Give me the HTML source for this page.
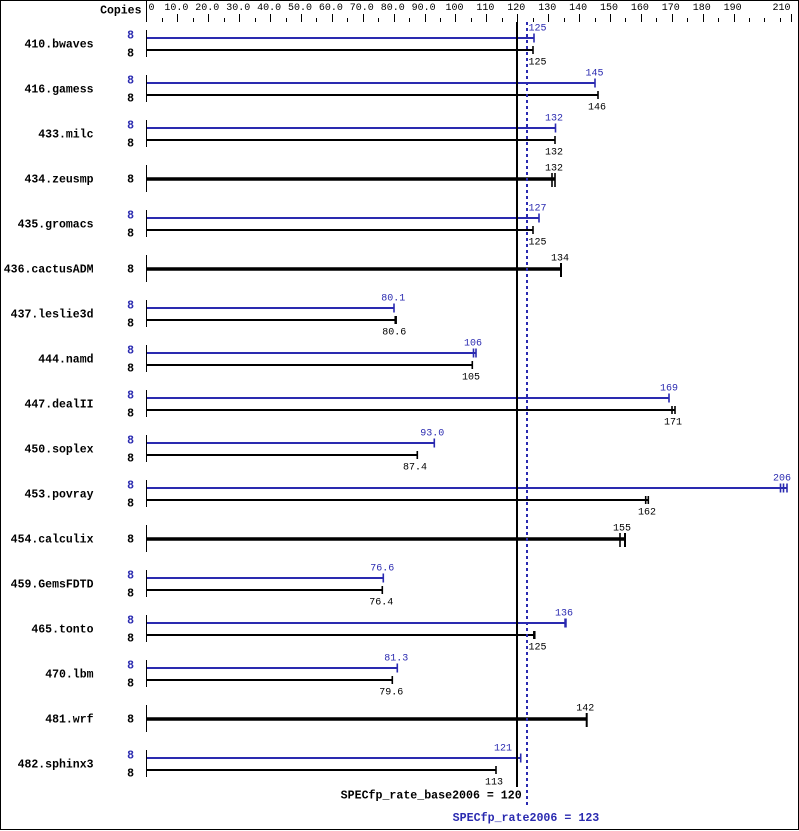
<!DOCTYPE html>
<html><head><meta charset="utf-8"><style>
html,body{margin:0;padding:0;background:#fff;}
svg{display:block;}
text{font-family:"Liberation Mono","DejaVu Sans Mono",monospace;}
.n{font-size:10px;fill:#000;}
.b{font-size:11.5px;font-weight:bold;fill:#000;}
.bl{fill:#2a2ab0;}
</style></head><body>
<svg width="799" height="831" viewBox="0 0 799 831" xmlns="http://www.w3.org/2000/svg">
<rect x="0" y="0" width="799" height="831" fill="#fff"/>
<rect x="0.5" y="0.5" width="798" height="829" fill="none" stroke="#000" stroke-width="1"/>

<!-- header -->
<text class="b" x="141.5" y="13.5" text-anchor="end">Copies</text>
<line x1="146.5" y1="1" x2="146.5" y2="22" stroke="#000" stroke-width="1"/>
<g stroke="#000" stroke-width="1">
<line x1="162.5" y1="18" x2="162.5" y2="22"/>
<line x1="177.5" y1="14" x2="177.5" y2="22"/>
<line x1="193.5" y1="18" x2="193.5" y2="22"/>
<line x1="208.5" y1="14" x2="208.5" y2="22"/>
<line x1="224.5" y1="18" x2="224.5" y2="22"/>
<line x1="239.5" y1="14" x2="239.5" y2="22"/>
<line x1="255.5" y1="18" x2="255.5" y2="22"/>
<line x1="270.5" y1="14" x2="270.5" y2="22"/>
<line x1="286.5" y1="18" x2="286.5" y2="22"/>
<line x1="301.5" y1="14" x2="301.5" y2="22"/>
<line x1="316.5" y1="18" x2="316.5" y2="22"/>
<line x1="332.5" y1="14" x2="332.5" y2="22"/>
<line x1="347.5" y1="18" x2="347.5" y2="22"/>
<line x1="363.5" y1="14" x2="363.5" y2="22"/>
<line x1="378.5" y1="18" x2="378.5" y2="22"/>
<line x1="394.5" y1="14" x2="394.5" y2="22"/>
<line x1="409.5" y1="18" x2="409.5" y2="22"/>
<line x1="425.5" y1="14" x2="425.5" y2="22"/>
<line x1="440.5" y1="18" x2="440.5" y2="22"/>
<line x1="455.5" y1="14" x2="455.5" y2="22"/>
<line x1="471.5" y1="18" x2="471.5" y2="22"/>
<line x1="486.5" y1="14" x2="486.5" y2="22"/>
<line x1="502.5" y1="18" x2="502.5" y2="22"/>
<line x1="517.5" y1="14" x2="517.5" y2="22"/>
<line x1="533.5" y1="18" x2="533.5" y2="22"/>
<line x1="548.5" y1="14" x2="548.5" y2="22"/>
<line x1="564.5" y1="18" x2="564.5" y2="22"/>
<line x1="579.5" y1="14" x2="579.5" y2="22"/>
<line x1="595.5" y1="18" x2="595.5" y2="22"/>
<line x1="610.5" y1="14" x2="610.5" y2="22"/>
<line x1="625.5" y1="18" x2="625.5" y2="22"/>
<line x1="641.5" y1="14" x2="641.5" y2="22"/>
<line x1="656.5" y1="18" x2="656.5" y2="22"/>
<line x1="672.5" y1="14" x2="672.5" y2="22"/>
<line x1="687.5" y1="18" x2="687.5" y2="22"/>
<line x1="703.5" y1="14" x2="703.5" y2="22"/>
<line x1="718.5" y1="18" x2="718.5" y2="22"/>
<line x1="734.5" y1="14" x2="734.5" y2="22"/>
<line x1="749.5" y1="18" x2="749.5" y2="22"/>
<line x1="764.5" y1="18" x2="764.5" y2="22"/>
<line x1="780.5" y1="18" x2="780.5" y2="22"/>
<line x1="791.5" y1="14" x2="791.5" y2="22"/>
</g>
<g class="n" text-anchor="middle">
<text x="151.5" y="10">0</text>
<text x="176.4" y="10">10.0</text>
<text x="207.3" y="10">20.0</text>
<text x="238.2" y="10">30.0</text>
<text x="269.1" y="10">40.0</text>
<text x="300" y="10">50.0</text>
<text x="330.9" y="10">60.0</text>
<text x="361.8" y="10">70.0</text>
<text x="392.7" y="10">80.0</text>
<text x="423.6" y="10">90.0</text>
<text x="454.5" y="10">100</text>
<text x="485.4" y="10">110</text>
<text x="516.3" y="10">120</text>
<text x="547.2" y="10">130</text>
<text x="578.1" y="10">140</text>
<text x="609" y="10">150</text>
<text x="639.9" y="10">160</text>
<text x="670.8" y="10">170</text>
<text x="701.7" y="10">180</text>
<text x="732.6" y="10">190</text>
<text x="781.5" y="10">210</text>
</g>

<!-- benchmark names -->
<g class="b" text-anchor="end">
<text x="93.5" y="47.5">410.bwaves</text>
<text x="93.5" y="92.5">416.gamess</text>
<text x="93.5" y="137.5">433.milc</text>
<text x="93.5" y="182.5">434.zeusmp</text>
<text x="93.5" y="227.5">435.gromacs</text>
<text x="93.5" y="272.5">436.cactusADM</text>
<text x="93.5" y="317.5">437.leslie3d</text>
<text x="93.5" y="362.5">444.namd</text>
<text x="93.5" y="407.5">447.dealII</text>
<text x="93.5" y="452.5">450.soplex</text>
<text x="93.5" y="497.5">453.povray</text>
<text x="93.5" y="542.5">454.calculix</text>
<text x="93.5" y="587.5">459.GemsFDTD</text>
<text x="93.5" y="632.5">465.tonto</text>
<text x="93.5" y="677.5">470.lbm</text>
<text x="93.5" y="722.5">481.wrf</text>
<text x="93.5" y="767.5">482.sphinx3</text>
</g>

<!-- copies -->
<g class="b" text-anchor="end">
<text class="bl" x="134" y="38.3">8</text><text x="134" y="56.7">8</text>
<text class="bl" x="134" y="83.3">8</text><text x="134" y="101.7">8</text>
<text class="bl" x="134" y="128.3">8</text><text x="134" y="146.7">8</text>
<text x="134" y="182.7">8</text>
<text class="bl" x="134" y="218.3">8</text><text x="134" y="236.7">8</text>
<text x="134" y="272.7">8</text>
<text class="bl" x="134" y="308.3">8</text><text x="134" y="326.7">8</text>
<text class="bl" x="134" y="353.3">8</text><text x="134" y="371.7">8</text>
<text class="bl" x="134" y="398.3">8</text><text x="134" y="416.7">8</text>
<text class="bl" x="134" y="443.3">8</text><text x="134" y="461.7">8</text>
<text class="bl" x="134" y="488.3">8</text><text x="134" y="506.7">8</text>
<text x="134" y="542.7">8</text>
<text class="bl" x="134" y="578.3">8</text><text x="134" y="596.7">8</text>
<text class="bl" x="134" y="623.3">8</text><text x="134" y="641.7">8</text>
<text class="bl" x="134" y="668.3">8</text><text x="134" y="686.7">8</text>
<text x="134" y="722.7">8</text>
<text class="bl" x="134" y="758.3">8</text><text x="134" y="776.7">8</text>
</g>

<!-- left row segments -->
<g stroke="#000" stroke-width="1">
<line x1="146.5" y1="30" x2="146.5" y2="57"/>
<line x1="146.5" y1="75" x2="146.5" y2="102"/>
<line x1="146.5" y1="120" x2="146.5" y2="147"/>
<line x1="146.5" y1="165" x2="146.5" y2="192"/>
<line x1="146.5" y1="210" x2="146.5" y2="237"/>
<line x1="146.5" y1="255" x2="146.5" y2="282"/>
<line x1="146.5" y1="300" x2="146.5" y2="327"/>
<line x1="146.5" y1="345" x2="146.5" y2="372"/>
<line x1="146.5" y1="390" x2="146.5" y2="417"/>
<line x1="146.5" y1="435" x2="146.5" y2="462"/>
<line x1="146.5" y1="480" x2="146.5" y2="507"/>
<line x1="146.5" y1="525" x2="146.5" y2="552"/>
<line x1="146.5" y1="570" x2="146.5" y2="597"/>
<line x1="146.5" y1="615" x2="146.5" y2="642"/>
<line x1="146.5" y1="660" x2="146.5" y2="687"/>
<line x1="146.5" y1="705" x2="146.5" y2="732"/>
<line x1="146.5" y1="750" x2="146.5" y2="777"/>
</g>

<!-- blue bars -->
<g stroke="#2a2ab0" stroke-width="2" fill="none">
<line x1="147" y1="38" x2="534" y2="38"/>
<line x1="147" y1="83" x2="595" y2="83"/>
<line x1="147" y1="128" x2="555.5" y2="128"/>
<line x1="147" y1="218" x2="539" y2="218"/>
<line x1="147" y1="308" x2="394" y2="308"/>
<line x1="147" y1="353" x2="476" y2="353"/>
<line x1="147" y1="398" x2="669" y2="398"/>
<line x1="147" y1="443" x2="434.3" y2="443"/>
<line x1="147" y1="488" x2="787" y2="488"/>
<line x1="147" y1="578" x2="383.3" y2="578"/>
<line x1="147" y1="623" x2="566" y2="623"/>
<line x1="147" y1="668" x2="397.3" y2="668"/>
<line x1="147" y1="758" x2="520.7" y2="758"/>
</g>
<!-- blue caps -->
<g stroke="#2a2ab0" stroke-width="1.6">
<line x1="534" y1="33.5" x2="534" y2="42.5"/>
<line x1="595" y1="78.5" x2="595" y2="87.5"/>
<line x1="555.5" y1="123.5" x2="555.5" y2="132.5"/>
<line x1="539" y1="213.5" x2="539" y2="222.5"/>
<line x1="394" y1="303.5" x2="394" y2="312.5"/>
<line x1="473.5" y1="348.5" x2="473.5" y2="357.5"/>
<line x1="476" y1="348.5" x2="476" y2="357.5"/>
<line x1="669" y1="393.5" x2="669" y2="402.5"/>
<line x1="434.3" y1="438.5" x2="434.3" y2="447.5"/>
<line x1="780.5" y1="483.5" x2="780.5" y2="492.5"/>
<line x1="783.5" y1="483.5" x2="783.5" y2="492.5"/>
<line x1="787" y1="483.5" x2="787" y2="492.5"/>
<line x1="383.3" y1="573.5" x2="383.3" y2="582.5"/>
<line x1="565.5" y1="618.5" x2="565.5" y2="627.5" stroke-width="2.5"/>
<line x1="397.3" y1="663.5" x2="397.3" y2="672.5"/>
<line x1="520.7" y1="753.5" x2="520.7" y2="762.5"/>
</g>

<!-- black bars -->
<g stroke="#000" stroke-width="2" fill="none">
<line x1="147" y1="50" x2="533" y2="50"/>
<line x1="147" y1="95" x2="598" y2="95"/>
<line x1="147" y1="140" x2="555" y2="140"/>
<line x1="147" y1="230" x2="533" y2="230"/>
<line x1="147" y1="320" x2="395.7" y2="320"/>
<line x1="147" y1="365" x2="472.3" y2="365"/>
<line x1="147" y1="410" x2="675" y2="410"/>
<line x1="147" y1="455" x2="417.3" y2="455"/>
<line x1="147" y1="500" x2="648.3" y2="500"/>
<line x1="147" y1="590" x2="382.3" y2="590"/>
<line x1="147" y1="635" x2="534.3" y2="635"/>
<line x1="147" y1="680" x2="392.3" y2="680"/>
<line x1="147" y1="770" x2="496" y2="770"/>
</g>
<g stroke="#000" stroke-width="3.5" fill="none">
<line x1="147" y1="179" x2="555" y2="179"/>
<line x1="147" y1="269" x2="561" y2="269"/>
<line x1="147" y1="539" x2="625" y2="539"/>
<line x1="147" y1="719" x2="586.7" y2="719"/>
</g>
<!-- black caps -->
<g stroke="#000" stroke-width="1.6">
<line x1="533" y1="46" x2="533" y2="54"/>
<line x1="598" y1="91" x2="598" y2="99"/>
<line x1="555" y1="136" x2="555" y2="144"/>
<line x1="533" y1="226" x2="533" y2="234"/>
<line x1="395.7" y1="316" x2="395.7" y2="324" stroke-width="2.5"/>
<line x1="472.3" y1="361" x2="472.3" y2="369"/>
<line x1="672" y1="406" x2="672" y2="414"/>
<line x1="675" y1="406" x2="675" y2="414"/>
<line x1="417.3" y1="451" x2="417.3" y2="459"/>
<line x1="645.7" y1="496" x2="645.7" y2="504"/>
<line x1="648.3" y1="496" x2="648.3" y2="504"/>
<line x1="382.3" y1="586" x2="382.3" y2="594"/>
<line x1="534.3" y1="631" x2="534.3" y2="639" stroke-width="2.5"/>
<line x1="392.3" y1="676" x2="392.3" y2="684"/>
<line x1="496" y1="766" x2="496" y2="774"/>
<line x1="552" y1="173" x2="552" y2="187"/>
<line x1="555" y1="173" x2="555" y2="187"/>
<line x1="561" y1="263" x2="561" y2="277" stroke-width="2"/>
<line x1="620" y1="533" x2="620" y2="547"/>
<line x1="625" y1="533" x2="625" y2="547" stroke-width="2"/>
<line x1="586.7" y1="713" x2="586.7" y2="727" stroke-width="2"/>
</g>

<!-- value labels -->
<g class="n bl" text-anchor="middle">
<text x="537.5" y="30.5">125</text>
<text x="594.5" y="75.5">145</text>
<text x="554" y="120.5">132</text>
<text x="537.5" y="210.5">127</text>
<text x="393.3" y="300.5">80.1</text>
<text x="473" y="345.5">106</text>
<text x="669" y="390.5">169</text>
<text x="432.3" y="435.5">93.0</text>
<text x="782" y="480.5">206</text>
<text x="382.3" y="570.5">76.6</text>
<text x="564" y="615.5">136</text>
<text x="396.3" y="660.5">81.3</text>
<text x="503" y="750.5">121</text>
</g>
<g class="n" text-anchor="middle">
<text x="537.5" y="64.3">125</text>
<text x="597" y="109.3">146</text>
<text x="554" y="154.3">132</text>
<text x="554" y="170.5">132</text>
<text x="537.5" y="244.3">125</text>
<text x="560" y="260.5">134</text>
<text x="394.3" y="334.3">80.6</text>
<text x="471" y="379.3">105</text>
<text x="673" y="424.3">171</text>
<text x="415" y="469.3">87.4</text>
<text x="647" y="514.3">162</text>
<text x="622" y="530.5">155</text>
<text x="381.3" y="604.3">76.4</text>
<text x="537.5" y="649.3">125</text>
<text x="391.3" y="694.3">79.6</text>
<text x="585.3" y="710.5">142</text>
<text x="494" y="784.3">113</text>
</g>

<!-- reference lines -->
<line x1="517" y1="22" x2="517" y2="787" stroke="#000" stroke-width="2"/>
<line x1="527" y1="22" x2="527" y2="807" stroke="#2a2ab0" stroke-width="2" stroke-dasharray="3,3"/>

<text class="b" x="521.7" y="798.5" text-anchor="end" textLength="181" lengthAdjust="spacingAndGlyphs">SPECfp_rate_base2006 = 120</text>
<text class="b bl" x="452.7" y="821" textLength="146.6" lengthAdjust="spacingAndGlyphs">SPECfp_rate2006 = 123</text>
</svg>
</body></html>
